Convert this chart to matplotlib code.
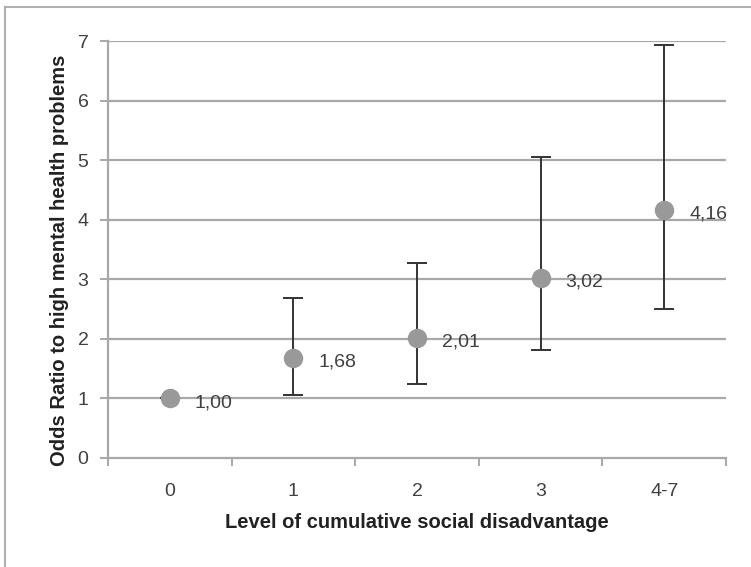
import numpy as np
import matplotlib.pyplot as plt
from matplotlib.lines import Line2D

plt.rcParams['font.family'] = ['Liberation Sans', 'DejaVu Sans']

# data
categories = ['0', '1', '2', '3', '4-7']
odds = [1.00, 1.68, 2.01, 3.02, 4.16]
lower = [1.00, 1.05, 1.25, 1.81, 2.50]
upper = [1.00, 2.69, 3.27, 5.06, 6.94]
labels = ['1,00', '1,68', '2,01', '3,02', '4,16']

x = np.arange(len(categories))
odds = np.array(odds)
yerr = np.array([odds - np.array(lower), np.array(upper) - odds])

fig = plt.figure(figsize=(7.51, 5.67), dpi=100)
ax = fig.add_axes([108/751, 1-458/567, (726-108)/751, (458-41)/567])

# outer frame (only top and left visible in the original)
fig.add_artist(Line2D([5/751, 5/751], [0, 1-7/567], color='#b0b0b0', lw=1.5))
fig.add_artist(Line2D([5/751, 1], [1-7/567, 1-7/567], color='#b0b0b0', lw=1.5))

grid_c = '#a8a8a8'
for yv in range(1, 8):
    ax.axhline(yv, color=grid_c, lw=1.6, zorder=1)

ax.errorbar(x, odds, yerr=yerr, fmt='none', ecolor='#333333', elinewidth=1.4,
            capsize=7, capthick=1.4, zorder=2)
ax.plot(x, odds, 'o', color='#999999', markersize=13, zorder=3)

for xi, yi, lab in zip(x, odds, labels):
    ax.annotate(lab, (xi, yi), xytext=(18, -3), textcoords='offset points',
                ha='left', va='center', fontsize=14, color='#404040', zorder=4)

ax.set_xlim(-0.5, 4.5)
ax.set_ylim(0, 7)
ax.set_yticks(range(0, 8))
ax.set_xticks(np.arange(-0.5, 5, 1))
ax.set_xticklabels([])
ax.set_xticks(x, minor=True)
ax.set_xticklabels(categories, minor=True)

for s in ['top', 'right']:
    ax.spines[s].set_visible(False)
for s in ['left', 'bottom']:
    ax.spines[s].set_color(grid_c)
    ax.spines[s].set_linewidth(1.6)

ax.tick_params(axis='y', length=6, width=1.4, color=grid_c, labelsize=14,
               labelcolor='#404040', pad=8)
ax.tick_params(axis='x', which='major', length=6, width=1.4, color=grid_c)
ax.tick_params(axis='x', which='minor', length=0, labelsize=14,
               labelcolor='#404040', pad=18)

ax.set_xlabel('Level of cumulative social disadvantage', fontsize=14.5,
              fontweight='bold', color='#222222', labelpad=9)
ax.set_ylabel('Odds Ratio to high mental health problems', fontsize=14.5,
              fontweight='bold', color='#222222', va='center')
ax.yaxis.set_label_coords(-0.078, 0.475)

fig.savefig('out.png', dpi=100)
